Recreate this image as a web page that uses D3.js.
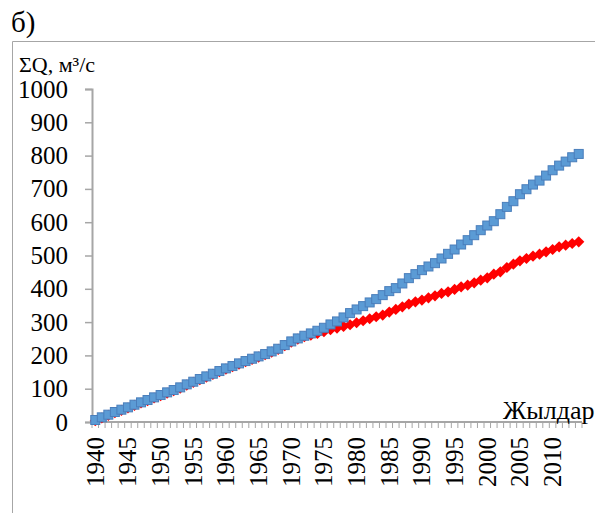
<!DOCTYPE html>
<html>
<head>
<meta charset="utf-8">
<script src="https://cdn.jsdelivr.net/npm/d3@7"></script>
<style>
  html, body { margin: 0; padding: 0; background: #fff; }
  svg { display: block; font-family: "Liberation Serif", "Times New Roman", serif; }
</style>
</head>
<body>
<svg id="chart" width="595" height="513"></svg>
<script>
// Years on the category axis
const years = d3.range(1940, 2015);

// Cumulative discharge, m³/s (blue squares)
const seriesA = [
  6, 14, 22, 30, 37, 44, 52, 59, 66, 74,
  81, 89, 96, 104, 113, 121, 129, 137, 145, 153,
  161, 168, 176, 183, 190, 197, 204, 212, 220, 231,
  242, 251, 259, 266, 274, 283, 293, 302, 314, 327,
  338, 348, 359, 369, 381, 393, 402, 416, 432, 444,
  456, 467, 477, 491, 505, 518, 533, 546, 561, 576,
  590, 603, 624, 646, 663, 684, 699, 713, 725, 740,
  756, 770, 782, 795, 805
];

// Cumulative discharge, m³/s (red diamonds)
const seriesB = [
  4, 12, 20, 28, 35, 42, 50, 57, 64, 72,
  79, 87, 94, 102, 111, 119, 127, 135, 143, 151,
  159, 166, 174, 181, 188, 195, 202, 210, 218, 229,
  240, 249, 256, 261, 266, 271, 277, 282, 287, 292,
  298, 304, 310, 316, 321, 330, 338, 346, 354, 361,
  366, 373, 379, 386, 391, 398, 406, 411, 418, 426,
  433, 444, 451, 464, 474, 484, 491, 498, 504, 511,
  518, 526, 531, 536, 541
];

const yTicks = d3.range(0, 1001, 100);
const xLabelYears = years.filter(y => y % 5 === 0);

const svg = d3.select("#chart");

// Panel letter and outer frame
svg.append("text")
  .attr("x", 11).attr("y", 32)
  .attr("font-size", 29)
  .text("б)");

svg.append("path")
  .attr("d", "M12.5,513 V41.5 H595")
  .attr("fill", "none")
  .attr("stroke", "#a6a6a6")
  .attr("stroke-width", 1);

const x = d3.scaleBand().domain(years).range([92, 582]).padding(0);
const y = d3.scaleLinear().domain([0, 1000]).range([422, 89]);

// Y axis
const yAxis = svg.append("g")
  .attr("transform", "translate(92,0)")
  .call(d3.axisLeft(y).tickValues(yTicks).tickSize(7).tickPadding(17).tickFormat(d3.format("d")));
yAxis.select(".domain").attr("stroke", "#a6a6a6").attr("stroke-width", 2);
yAxis.selectAll(".tick line").attr("stroke", "#a6a6a6").attr("stroke-width", 1.5);
yAxis.selectAll(".tick text")
  .attr("font-family", "Liberation Serif, Times New Roman, serif")
  .attr("font-size", 25)
  .attr("fill", "#000");

// X axis line with tick marks between categories
const xg = svg.append("g");
xg.append("line")
  .attr("x1", 92).attr("x2", 582)
  .attr("y1", y(0)).attr("y2", y(0))
  .attr("stroke", "#a6a6a6").attr("stroke-width", 2);
const bounds = years.map(d => x(d)).concat([x.range()[1]]);
xg.selectAll("line.tk")
  .data(bounds)
  .join("line")
  .attr("class", "tk")
  .attr("x1", d => d).attr("x2", d => d)
  .attr("y1", y(0)).attr("y2", y(0) + 6)
  .attr("stroke", "#a6a6a6").attr("stroke-width", 1);

xg.selectAll("text.xl")
  .data(xLabelYears)
  .join("text")
  .attr("class", "xl")
  .attr("transform", d => `translate(${x(d) + x.bandwidth() / 2},437) rotate(-90)`)
  .attr("text-anchor", "end")
  .attr("dy", "0.33em")
  .attr("font-size", 25)
  .text(d => d);

// Axis titles
svg.append("text")
  .attr("x", 19).attr("y", 72)
  .attr("font-size", 22)
  .text("ΣQ, м³/с");

svg.append("text")
  .attr("x", 503).attr("y", 419)
  .attr("font-size", 26)
  .text("Жылдар");

// Series markers: red diamonds beneath, blue squares on top
const cx = (d, i) => x(years[i]) + x.bandwidth() / 2;

svg.append("g").selectAll("path")
  .data(seriesB)
  .join("path")
  .attr("transform", (d, i) => `translate(${cx(d, i)},${y(d)})`)
  .attr("d", d3.symbol(d3.symbolDiamond2, 80)())
  .attr("fill", "#ff0000");

svg.append("g").selectAll("rect")
  .data(seriesA)
  .join("rect")
  .attr("x", (d, i) => cx(d, i) - 4.5)
  .attr("y", d => y(d) - 4.5)
  .attr("width", 9).attr("height", 9)
  .attr("fill", "#5b9bd5")
  .attr("stroke", "#4a7ebb")
  .attr("stroke-width", 1);
</script>
</body>
</html>
